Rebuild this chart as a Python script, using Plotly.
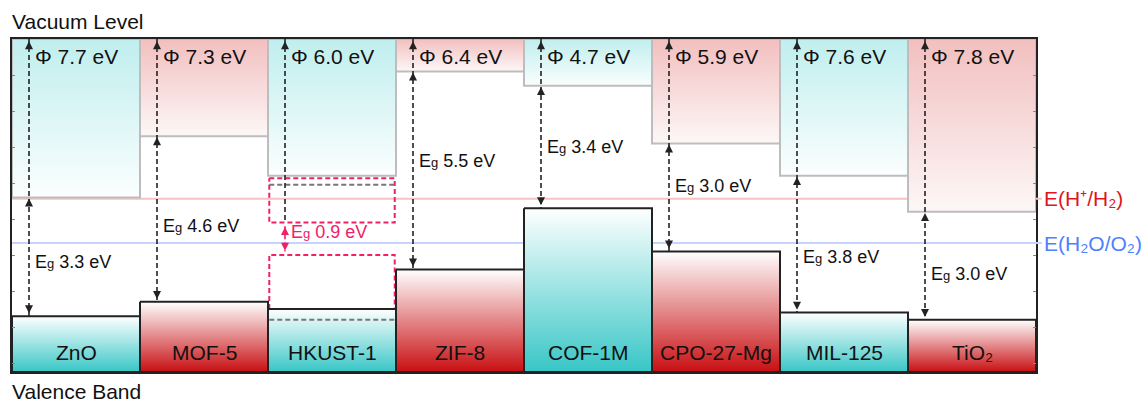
import plotly.graph_objects as go

# ---- data -------------------------------------------------------------
materials = ["ZnO", "MOF-5", "HKUST-1", "ZIF-8", "COF-1M", "CPO-27-Mg", "MIL-125", "TiO₂"]
work_function = [7.7, 7.3, 6.0, 6.4, 4.7, 5.9, 7.6, 7.8]   # Φ, eV below vacuum (valence band top)
band_gap = [3.3, 4.6, 0.9, 5.5, 3.4, 3.0, 3.8, 3.0]        # Eg, eV
family = ["teal", "red", "teal", "red", "teal", "red", "teal", "red"]

# HKUST-1: framework band edges shown as solid blocks, plus dashed reference levels
hkust_block_cb = 3.8
hkust_block_vb = 7.5
hkust_dashed_levels = [4.05, 7.8]
hkust_cb_band_top = 3.87

h2_level = 4.44   # E(H+/H2) vs vacuum
o2_level = 5.67   # E(H2O/O2) vs vacuum

# ---- styling ----------------------------------------------------------
E_MAX = 9.25
FONT = "Liberation Sans, Arial, sans-serif"
TEXT = "#111111"
PINK = "#f0206a"
DARK = "#222222"
top_colors = {"teal": "#c0eeee", "red": "#f2bfbf"}
bar_colors = {"teal": "#38c6c6", "red": "#c80f12"}
eg_label_frac = [0.54, 0.54, 0.28, 0.45, 0.5, 0.39, 0.59, 0.58]
ARROW_DX = 17 / 128 - 0.5
LABEL_DX = 21 / 128 - 0.5
DASH = "5px,3px"

n = len(materials)
cond_band = [wf - eg for wf, eg in zip(work_function, band_gap)]
block_cb = list(cond_band)
block_vb = list(work_function)
hk = materials.index("HKUST-1")
block_cb[hk] = hkust_block_cb
block_vb[hk] = hkust_block_vb

fig = go.Figure()


def rect(x0, x1, y0, y1):
    return [x0, x1, x1, x0, x0], [y0, y0, y1, y1, y0]


def dashed(xs, ys, color, width=2):
    fig.add_trace(go.Scatter(x=xs, y=ys, mode="lines", hoverinfo="skip",
                             line=dict(color=color, width=width, dash=DASH)))


# redox reference levels
for lvl, col in [(h2_level, "#f7c2c2"), (o2_level, "#c6d3ff")]:
    fig.add_trace(go.Scatter(x=[-0.5, n - 0.5], y=[lvl, lvl], mode="lines",
                             line=dict(color=col, width=2), hoverinfo="skip"))

# conduction-band side blocks (vacuum -> CB)
for i in range(n):
    xs, ys = rect(i - 0.5, i + 0.5, 0, block_cb[i])
    fig.add_trace(go.Scatter(
        x=xs, y=ys, mode="lines", fill="toself",
        fillgradient=dict(type="vertical",
                          colorscale=[[0, top_colors[family[i]]],
                                      [1, "#fbfefe" if family[i] == "teal" else "#fdf7f7"]],
                          start=0, stop=block_cb[i]),
        line=dict(color="#bdbdbd", width=2), hoverinfo="skip"))

# HKUST-1 dashed band regions and reference levels
xl, xr = hk - 0.49, hk + 0.49
dashed([xl, xr], [hkust_dashed_levels[0]] * 2, "#777777")
xs, ys = rect(xl, xr, hkust_cb_band_top, cond_band[hk])
dashed(xs, ys, PINK)
dashed([xl, xl, xr, xr], [block_vb[hk], work_function[hk], work_function[hk], block_vb[hk]], PINK)

# valence-band side blocks (VB -> bottom)
for i in range(n):
    xs, ys = rect(i - 0.5, i + 0.5, block_vb[i], E_MAX)
    fig.add_trace(go.Scatter(
        x=xs, y=ys, mode="lines", fill="toself",
        fillgradient=dict(type="vertical",
                          colorscale=[[0, "#ffffff"], [1, bar_colors[family[i]]]],
                          start=block_vb[i], stop=E_MAX),
        line=dict(color=DARK, width=2), hoverinfo="skip"))

dashed([xl, xr], [hkust_dashed_levels[1]] * 2, "#777777")

# Φ and Eg arrows: dashed shafts, arrowhead markers with their tip on the point
up_x, up_y, up_c, dn_x, dn_y, dn_c = [], [], [], [], [], []
for i in range(n):
    xa = i + ARROW_DX
    up_x.append(xa); up_y.append(0.06); up_c.append(DARK)
    if i == hk:
        dashed([xa, xa], [0, cond_band[i]], DARK, 1.6)
        dashed([xa, xa], [cond_band[i] + 0.1, work_function[i] - 0.1], PINK, 1.6)
        up_x.append(xa); up_y.append(cond_band[i] + 0.12); up_c.append(PINK)
        dn_x.append(xa); dn_y.append(work_function[i] - 0.12); dn_c.append(PINK)
    else:
        dashed([xa, xa], [0, work_function[i]], DARK, 1.6)
        up_x.append(xa); up_y.append(cond_band[i] + 0.03); up_c.append(DARK)
        dn_x.append(xa); dn_y.append(work_function[i] - 0.08); dn_c.append(DARK)

fig.add_trace(go.Scatter(x=up_x, y=up_y, mode="markers", hoverinfo="skip",
                         marker=dict(symbol="arrow-up", size=8, color=up_c, line=dict(width=0))))
fig.add_trace(go.Scatter(x=dn_x, y=dn_y, mode="markers", hoverinfo="skip",
                         marker=dict(symbol="arrow-down", size=8, color=dn_c, line=dict(width=0))))

# labels
for i in range(n):
    xt = i + LABEL_DX
    fig.add_annotation(x=xt, y=1, xref="x", yref="paper", yshift=-17, xanchor="left", yanchor="middle",
                       text=f"Φ {work_function[i]:.1f} eV", showarrow=False,
                       font=dict(family=FONT, size=21, color=TEXT))
    col = PINK if i == hk else TEXT
    fig.add_annotation(x=xt, y=cond_band[i] + eg_label_frac[i] * band_gap[i], xref="x", yref="y",
                       xanchor="left", yanchor="middle",
                       text=f"E<span style='font-size:13px'>g</span> {band_gap[i]:.1f} eV", showarrow=False,
                       font=dict(family=FONT, size=18, color=col))
    fig.add_annotation(x=i, y=0, xref="x", yref="paper", yshift=20, xanchor="center", yanchor="middle",
                       text=materials[i], showarrow=False, font=dict(family=FONT, size=21, color=TEXT))

for lvl, line_col, txt_col, txt in [
    (h2_level, "#f7c2c2", "#e0161c", "E(H⁺/H₂)"),
    (o2_level, "#c6d3ff", "#4f80ff", "E(H₂O/O₂)"),
]:
    fig.add_annotation(x=n - 0.5 - 1e-3, y=lvl, xref="x", yref="y", ax=6, ay=0,
                       xanchor="left", yanchor="middle", showarrow=True, arrowhead=0,
                       arrowwidth=2, arrowcolor=line_col, standoff=0, text=txt,
                       font=dict(family=FONT, size=21, color=txt_col))

fig.add_annotation(x=0, y=1, xref="paper", yref="paper", xanchor="left", yanchor="middle", yshift=18,
                   xshift=-2, text="Vacuum Level", showarrow=False,
                   font=dict(family=FONT, size=21, color=TEXT))
fig.add_annotation(x=0, y=0, xref="paper", yref="paper", xanchor="left", yanchor="middle", yshift=-19,
                   xshift=-2, text="Valence Band", showarrow=False,
                   font=dict(family=FONT, size=21, color=TEXT))

fig.update_xaxes(range=[-0.5, n - 0.5], showgrid=False, zeroline=False, showticklabels=False,
                 showline=True, linecolor=DARK, linewidth=2, mirror=True, ticks="")
fig.update_yaxes(range=[E_MAX, 0], showgrid=False, zeroline=False, showticklabels=False,
                 tickvals=list(range(1, 10)), ticks="inside", ticklen=3, tickwidth=1, tickcolor="#888888",
                 showline=True, linecolor=DARK, linewidth=2, mirror="ticks")
fig.update_layout(width=1144, height=403, margin=dict(l=12, r=108, t=39, b=31),
                  paper_bgcolor="white", plot_bgcolor="white", showlegend=False)

fig.write_html("out.html")
